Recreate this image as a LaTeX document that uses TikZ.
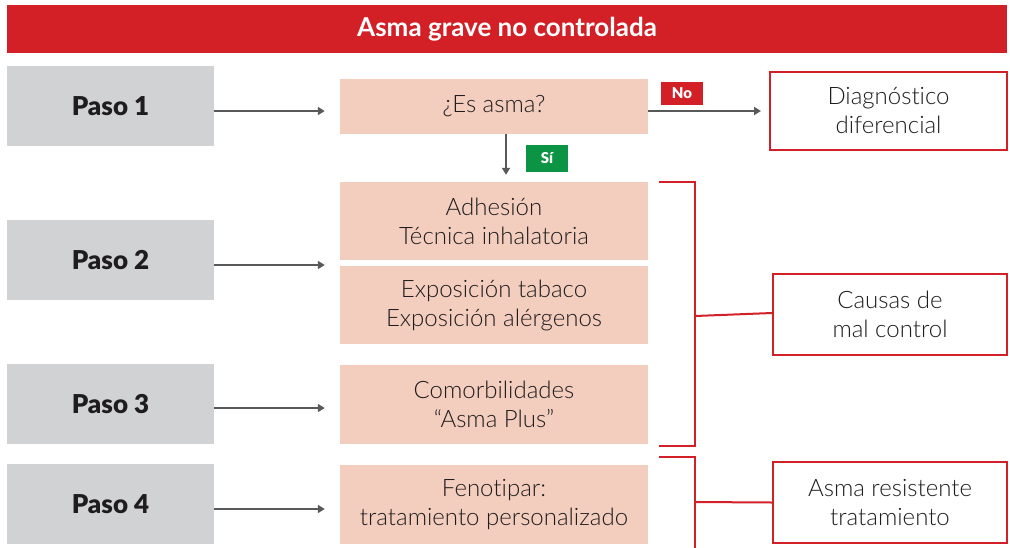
\documentclass[tikz,border=0pt]{standalone}
\usepackage{fontspec}
\setmainfont{Lato}
\newfontfamily\latolight[Ligatures={NoCommon,NoRare}]{Lato Light}
\newfontfamily\latoblack{Lato Black}
\usetikzlibrary{arrows.meta}
\definecolor{tred}{HTML}{D31F26}
\definecolor{tgray}{HTML}{D1D2D4}
\definecolor{tpink}{HTML}{F3CDBE}
\definecolor{tgreen}{HTML}{0B9444}
\definecolor{tarrow}{HTML}{58595B}
\definecolor{ttext}{HTML}{1E1C1D}
\begin{document}
\begin{tikzpicture}[x=1pt,y=-1pt,
  base/.style={rectangle,inner sep=0pt,align=center,text=ttext},
  pasobox/.style={base,fill=tgray,minimum width=207pt,minimum height=80pt,font=\latoblack\fontsize{26}{30}\selectfont},
  pinkbox/.style={base,fill=tpink,minimum width=308pt,font=\latolight\fontsize{24}{29}\selectfont},
  outbox/.style={base,draw=tred,line width=2pt,fill=white,font=\latolight\fontsize{24}{29}\selectfont},
  tag/.style={base,text=white,font=\latoblack\fontsize{15}{18}\selectfont,minimum width=42pt},
  arr/.style={draw=tarrow,line width=2pt,-{Triangle[width=8pt,length=7pt]}},
  brk/.style={draw=tred,line width=2pt}]
\useasboundingbox (0,0) rectangle (1010,547);
\node[base,fill=tred,text=white,minimum width=1000pt,minimum height=48pt,font=\fontsize{26}{28}\selectfont\bfseries] (title) at (507,29) {Asma grave no controlada};
\node[pasobox] (p1) at (110.5,106) {Paso 1};
\node[pasobox] (p2) at (110.5,260) {Paso 2};
\node[pasobox] (p3) at (110.5,404) {Paso 3};
\node[pasobox] (p4) at (110.5,504) {Paso 4};
\node[pinkbox,minimum height=55pt] (q) at (494,106.5) {¿Es asma?};
\node[pinkbox,minimum height=78pt] (a2) at (494,221) {Adhesión\\Técnica inhalatoria};
\node[pinkbox,minimum height=78pt] (a3) at (494,305) {Exposición tabaco\\Exposición alérgenos};
\node[pinkbox,minimum height=79pt] (a4) at (494,404.5) {Comorbilidades\\“Asma Plus”};
\node[pinkbox,minimum height=79pt] (a5) at (494,504.5) {Fenotipar:\\tratamiento personalizado};
\node[outbox,minimum width=237pt,minimum height=78pt] (dd) at (888.5,111) {Diagnóstico\\diferencial};
\node[outbox,minimum width=234pt,minimum height=81pt] (causas) at (890,314.5) {Causas de\\mal control};
\node[outbox,minimum width=234pt,minimum height=81pt] (resist) at (890,502.5) {Asma resistente\\tratamiento};
\node[tag,fill=tred,minimum height=23pt] (no) at (682,93.5) {No};
\node[tag,fill=tgreen,minimum height=27pt] (si) at (547,158.5) {Sí};
% arrows
\draw[arr,shorten >=15pt] ([yshift=-5pt]p1.east) -- ([yshift=-5pt]p1.east -| q.west);
\draw[arr,shorten >=15pt] ([yshift=-5pt]p2.east) -- ([yshift=-5pt]p2.east -| a2.west);
\draw[arr,shorten >=15pt] ([yshift=-4pt]p3.east) -- ([yshift=-4pt]p3.east -| a4.west);
\draw[arr,shorten >=15pt] ([yshift=-5pt]p4.east) -- ([yshift=-5pt]p4.east -| a5.west);
\draw[arr,shorten >=8pt] ([yshift=-4.5pt]q.east) -- ([yshift=-4.5pt]q.east -| dd.west);
\draw[arr,shorten >=7pt] ([xshift=12pt]q.south) -- ([xshift=12pt]q.south |- a2.north);
% brackets
\coordinate (b1t) at (659,182);
\coordinate (b1b) at (659,446);
\coordinate (b2t) at (659,457);
\coordinate (b2b) at (695,548);
\draw[brk] (b1t) -- (695,182) -- (695,446) -- (b1b);
\draw[brk] (695,316) -- ([yshift=1.5pt]causas.west);
\draw[brk] (b2t) -- (695,457) -- (b2b);
\draw[brk] (695,502) -- (resist.west);
\end{tikzpicture}
\end{document}
